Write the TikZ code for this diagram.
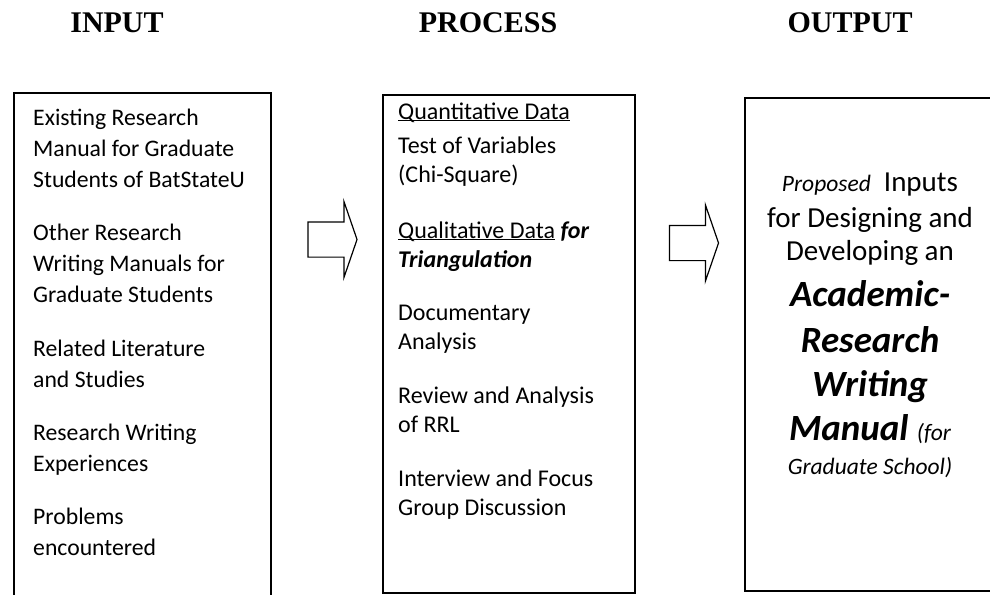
\documentclass[tikz,border=0pt]{standalone}
\usepackage{fontspec}
\setmainfont{Carlito}
\newfontfamily\headfont{Liberation Serif}
\usetikzlibrary{positioning, shapes.arrows}
\newcommand\smallit{\fontsize{23.5}{28}\selectfont\mdseries\itshape}
\tikzset{box/.style={draw, line width=1.5pt, inner sep=0pt, anchor=north west},
         head/.style={font=\headfont\bfseries\fontsize{30}{36}\selectfont, anchor=base},
         inpara/.style={align=left, inner sep=0pt, font=\fontsize{23.7}{31}\selectfont},
         procpara/.style={inpara, font=\fontsize{24}{29}\selectfont},
         outline/.style={anchor=base, inner sep=0pt, font=\fontsize{29}{35}\selectfont},
         bigline/.style={outline, font=\fontsize{37}{44}\selectfont\bfseries\itshape},
         blockarrow/.style={single arrow, draw, line width=1.2pt,
                            inner xsep=0pt, inner ysep=17pt, minimum height=49pt,
                            single arrow head extend=20.5pt, single arrow tip angle=142},
         }

\begin{document}
\begin{tikzpicture}[x=1pt, y=-1pt]
    \useasboundingbox (0,0) rectangle (990,594);
    \clip (0,0) rectangle (990,594);

    % headings
    \node[head] (hin) at (117,33) {INPUT};
    \node[head] (hproc) at (488,33) {PROCESS};
    \node[head] (hout) at (850,33) {OUTPUT};

    % the three boxes
    \node[box, minimum width=257pt, minimum height=520pt] (inbox) at (13,92) {};
    \node[box, minimum width=252pt, minimum height=498pt] (procbox) at (382,94) {};
    \node[box, minimum width=248pt, minimum height=493pt] (outbox) at (744,97) {};

    % input (struts keep the baselines regular)
    \node[inpara, anchor=north west] (in1) at (33,103.3) {\strut Existing Research\\Manual for Graduate\\Students of BatStateU\strut};
    \node[inpara, below=22pt of in1.south west, anchor=north west] (in2) {\strut Other Research\\Writing Manuals for\\Graduate Students\strut};
    \node[inpara, below=22pt of in2.south west, anchor=north west] (in3) {\strut Related Literature\\and Studies\strut};
    \node[inpara, below=22pt of in3.south west, anchor=north west] (in4) {\strut Research Writing\\Experiences\strut};
    \node[inpara, below=22pt of in4.south west, anchor=north west] (in5) {\strut Problems\\encountered\strut};

    % process
    \node[procpara, anchor=north west] (pr1) at (398,98.7) {\strut\underline{\smash{Quantitative Data}}};
    \node[procpara, below=5pt of pr1.south west, anchor=north west] (pr2) {\strut Test of Variables\\(Chi-Square)\strut};
    \node[procpara, below=26pt of pr2.south west, anchor=north west] (pr3) {\strut\underline{\smash{Qualitative Data}} \textbf{\textit{for}}\\\textbf{\textit{Triangulation}}\strut};
    \node[procpara, below=24.5pt of pr3.south west, anchor=north west] (pr4) {\strut Documentary\\Analysis\strut};
    \node[procpara, below=24.5pt of pr4.south west, anchor=north west] (pr5) {\strut Review and Analysis\\of RRL\strut};
    \node[procpara, below=24.5pt of pr5.south west, anchor=north west] (pr6) {\strut Interview and Focus\\Group Discussion\strut};

    % output
    \node[outline] (o1) at (870,191) {{\smallit Proposed}\ \ Inputs};
    \node[outline] (o2) at (870,227) {for Designing and};
    \node[outline] (o3) at (870,260) {Developing an};
    \node[bigline] (o4) at (870,306) {Academic-};
    \node[bigline] (o5) at (870,352) {Research};
    \node[bigline] (o6) at (870,396) {Writing};
    \node[bigline] (o7) at (870,440) {Manual {\smallit (for}};
    \node[outline, font=\smallit] (o8) at (870,474) {Graduate School)};

    % block arrows
    \node[blockarrow] (arr1) at (329.5,239.5) {};
    \node[blockarrow] (arr2) at (691,243) {};
\end{tikzpicture}
\end{document}
